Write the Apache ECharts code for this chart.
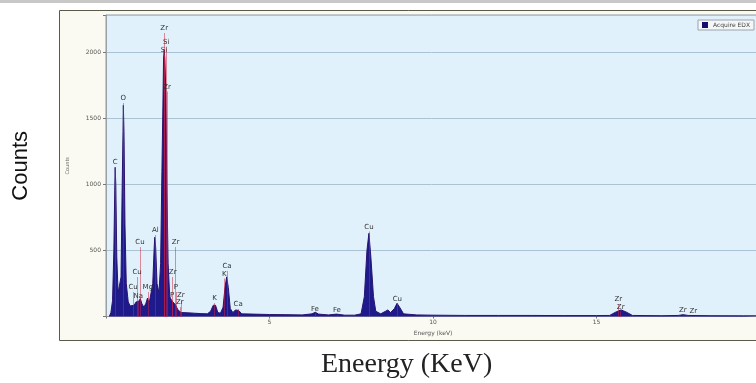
<!DOCTYPE html>
<html>
<head>
<meta charset="utf-8">
<script src="https://cdn.jsdelivr.net/npm/echarts@6/dist/echarts.min.js"></script>
<style>
  html, body { margin: 0; padding: 0; background: #fff; }
  #edx { width: 756px; height: 383px; }
</style>
</head>
<body>
<div id="edx"></div>
<script>
// spectrum: energy (keV) and counts
const energy = [0.10, 0.15, 0.20, 0.24, 0.27, 0.28, 0.30, 0.33, 0.37, 0.42, 0.46, 0.49, 0.52, 0.53, 0.55, 0.58, 0.62, 0.68, 0.74, 0.80,
  0.86, 0.92, 0.96, 1.00, 1.05, 1.10, 1.16, 1.22, 1.27, 1.32, 1.38, 1.43, 1.47, 1.49, 1.52, 1.56, 1.62, 1.67, 1.71, 1.74,
  1.76, 1.78, 1.80, 1.83, 1.86, 1.90, 1.95, 2.01, 2.06, 2.12, 2.20, 2.30, 2.5, 2.7, 2.9, 3.1, 3.2, 3.28, 3.31, 3.35,
  3.42, 3.5, 3.58, 3.64, 3.69, 3.74, 3.80, 3.88, 3.96, 4.01, 4.06, 4.15, 4.5, 5.0, 5.5, 6.0, 6.3, 6.40, 6.5, 6.8,
  7.05, 7.3, 7.6, 7.8, 7.9, 7.98, 8.04, 8.10, 8.18, 8.25, 8.4, 8.55, 8.62, 8.7, 8.82, 8.90, 8.98, 9.1, 9.5, 10,
  11, 12, 13, 14, 15, 15.4, 15.6, 15.75, 15.9, 16.1, 17, 17.5, 17.65, 17.8, 18.5, 19.5, 20];
const counts = [0, 30, 120, 500, 1000, 1130, 1000, 450, 180, 170, 300, 900, 1400, 1600, 1400, 700, 250, 110, 80, 95,
  85, 110, 120, 115, 135, 95, 70, 100, 140, 100, 90, 250, 500, 600, 520, 250, 180, 400, 1100, 1600,
  1950, 2020, 1950, 1700, 1000, 400, 150, 120, 130, 90, 50, 30, 28, 25, 22, 20, 40, 85, 100, 85,
  30, 25, 70, 220, 300, 220, 60, 30, 50, 62, 45, 20, 18, 15, 14, 12, 20, 32, 18, 12,
  18, 10, 10, 20, 150, 500, 630, 450, 150, 40, 20, 40, 50, 30, 60, 100, 70, 20, 12, 10,
  8, 8, 8, 7, 7, 8, 35, 50, 35, 8, 6, 8, 14, 8, 6, 5, 5];

// element markers: name, line energy, height of the label
const markNames = ['C', 'O', 'Cu', 'Cu', 'Cu', 'Na', 'Mg', 'Al', 'Si', 'Si', 'Zr', 'Zr', 'Zr', 'Zr', 'P', 'P', 'Zr', 'Zr',
  'K', 'K', 'Ca', 'Ca', 'Fe', 'Fe', 'Cu', 'Cu', 'Zr', 'Zr', 'Zr', 'Zr'];
const markEnergy = [0.28, 0.53, 0.83, 0.95, 1.04, 0.99, 1.28, 1.51, 1.77, 1.84, 1.78, 1.87, 2.13, 2.04, 2.14, 2.02, 2.29, 2.26,
  3.32, 3.62, 3.70, 4.04, 6.39, 7.06, 8.04, 8.91, 15.67, 15.74, 17.64, 17.96];
const markHeight = [1133, 1617, 186, 299, 526, 117, 186, 617, 1981, 2044, 2150, 1703, 526, 299, 186, 125, 125, 72,
  104, 289, 345, 57, 24, 11, 642, 100, 95, 36, 11, 4];

const xTicks = [5, 10, 15, 20];
const yTicks = [500, 1000, 1500, 2000];

const spectrum = energy.map((e, i) => [e, counts[i]]);
const marks = markNames.map((n, i) => {
  return [
    {coord: [markEnergy[i], 0]},
    {coord: [markEnergy[i], markHeight[i]], name: n}
  ];
});

const chart = echarts.init(document.getElementById('edx'));
const option = {
  animation: false,
  graphic: [
    {type: 'rect', z: -10, shape: {x: 0, y: 0, width: 756, height: 3}, style: {fill: '#c8c8c8'}},
    {type: 'rect', z: -10, shape: {x: 59.5, y: 10.5, width: 700, height: 330},
      style: {fill: '#fbfaf2', stroke: '#5a5a48', lineWidth: 1}},
    {type: 'text', left: 10, top: 131, rotation: Math.PI / 2,
      style: {text: 'Counts', font: '22px "Liberation Sans", Arial, sans-serif', fill: '#111'}},
    {type: 'text', left: 321, top: 351,
      style: {text: 'Eneergy (KeV)', font: '28px "Liberation Serif", "Times New Roman", serif', fill: '#222'}}
  ],
  legend: {
    right: 2, top: 20,
    itemWidth: 6, itemHeight: 6, itemGap: 4,
    padding: [2, 4, 2, 4],
    backgroundColor: '#f4f6f8', borderColor: '#9aa4ae', borderWidth: 1,
    icon: 'rect',
    textStyle: {fontSize: 6, color: '#444', fontFamily: 'DejaVu Sans'},
    data: ['Acquire EDX']
  },
  grid: {
    left: 106, right: -4, top: 15, bottom: 66.5,
    outerBoundsMode: 'none',
    show: true, backgroundColor: '#e0f1fb', borderColor: '#8c9cac', borderWidth: 1
  },
  xAxis: {
    type: 'value', min: 0, max: 20, interval: 5,
    name: 'Energy (keV)', nameLocation: 'middle', nameGap: 10,
    nameTextStyle: {fontSize: 6, color: '#555', fontFamily: 'DejaVu Sans'},
    axisLine: {lineStyle: {color: '#9aa0a6'}},
    axisTick: {length: 2, lineStyle: {color: '#777'}},
    axisLabel: {fontSize: 6, color: '#555', margin: 3, fontFamily: 'DejaVu Sans',
      formatter: (v) => xTicks.includes(v) ? String(v) : ''},
    splitLine: {show: false}
  },
  yAxis: {
    type: 'value', min: 0, max: 2284, interval: 500,
    name: 'Counts', nameLocation: 'middle', nameGap: 36,
    nameTextStyle: {fontSize: 5, color: '#666', fontFamily: 'DejaVu Sans'},
    axisLine: {show: true, lineStyle: {color: '#9aa0a6'}},
    axisTick: {show: true, length: 3, lineStyle: {color: '#777'}},
    axisLabel: {fontSize: 6, color: '#555', margin: 5, fontFamily: 'DejaVu Sans',
      formatter: (v) => yTicks.includes(v) ? String(v) : ''},
    splitLine: {lineStyle: {color: '#a9c3d2', width: 1}}
  },
  series: [
    {
      name: 'Acquire EDX',
      type: 'line',
      data: spectrum,
      symbol: 'none',
      color: '#120f6e',
      lineStyle: {color: '#2a1470', width: 1},
      areaStyle: {color: '#1e1a8c', opacity: 1}
    },
    {
      name: 'markers',
      type: 'line',
      data: [],
      z: 5,
      markLine: {
        silent: true,
        symbol: 'none',
        lineStyle: {color: '#d8203c', type: 'dotted', width: 1},
        label: {
          show: true, position: 'end', distance: 1,
          formatter: '{b}', fontSize: 7, color: '#333', fontFamily: 'DejaVu Sans'
        },
        data: marks
      }
    }
  ]
};

chart.setOption(option);
</script>
</body>
</html>
